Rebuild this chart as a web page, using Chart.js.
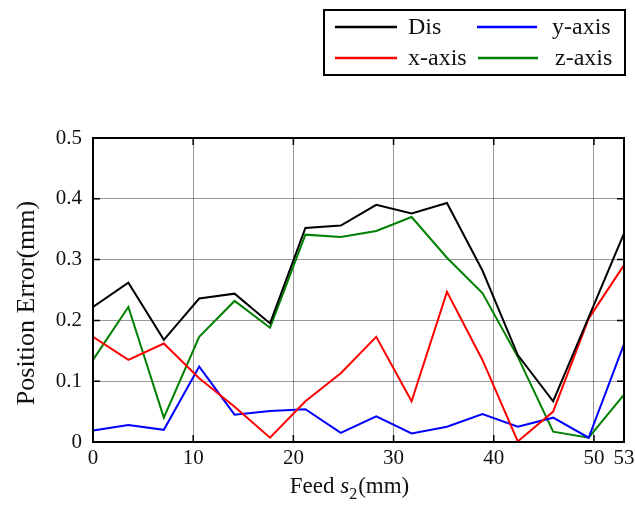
<!DOCTYPE html>
<html><head><meta charset="utf-8">
<style>html,body{margin:0;padding:0;background:#fff}#wrap{width:635px;height:508px}</style>
<script src="https://cdn.jsdelivr.net/npm/chart.js@4.4.0/dist/chart.umd.min.js"></script>
</head><body><div id="wrap"><canvas id="c" width="635" height="508"></canvas></div>
<script>
const feed = [0, 3.53, 7.07, 10.6, 14.13, 17.67, 21.2, 24.73, 28.27, 31.8, 35.33, 38.87, 42.4, 45.93, 49.47, 53];
const disErr = [0.222,0.262,0.168,0.236,0.244,0.195,0.352,0.356,0.390,0.376,0.393,0.282,0.143,0.067,0.205,0.343];
const xErr = [0.173,0.135,0.162,0.105,0.058,0.007,0.067,0.113,0.173,0.067,0.247,0.135,0.001,0.050,0.203,0.291];
const yErr = [0.019,0.028,0.020,0.124,0.045,0.051,0.054,0.015,0.042,0.014,0.025,0.046,0.025,0.040,0.007,0.161];
const zErr = [0.135,0.222,0.040,0.173,0.232,0.188,0.341,0.337,0.347,0.370,0.303,0.245,0.140,0.017,0.007,0.078];
const xTicks = [0,10,20,30,40,50,53];
const yTicks = [0,0.1,0.2,0.3,0.4,0.5];
const yTickLabels = ['0','0.1','0.2','0.3','0.4','0.5'];
const seriesNames = ['Dis','x-axis','y-axis','z-axis'];
const seriesColors = ['#000000','#ff0000','#0000ff','#008000'];
const xTitleParts = ['Feed ','s','2','(mm)'];
const yTitle = 'Position Error(mm)';

const SERIF = '"Liberation Serif", "Times New Roman", serif';
const toPts = arr => arr.map((v,i)=>({x:feed[i], y:v}));
const seriesData = [disErr, xErr, yErr, zErr];

const framePlugin = {
  id:'frame',
  afterDraw(chart){
    const {ctx, chartArea:a, scales} = chart;
    ctx.save();
    ctx.strokeStyle='#000'; ctx.lineWidth=1.5;
    ctx.beginPath();
    scales.x.ticks.forEach(t=>{const px=scales.x.getPixelForValue(t.value);
      ctx.moveTo(px,a.top); ctx.lineTo(px,a.top+7); ctx.moveTo(px,a.bottom); ctx.lineTo(px,a.bottom-7);});
    scales.y.ticks.forEach(t=>{const py=scales.y.getPixelForValue(t.value);
      ctx.moveTo(a.left,py); ctx.lineTo(a.left+7,py); ctx.moveTo(a.right,py); ctx.lineTo(a.right-7,py);});
    ctx.stroke();
    ctx.lineWidth=2;
    ctx.strokeRect(a.left,a.top,a.right-a.left,a.bottom-a.top);

    // legend
    ctx.strokeRect(324,10,301,65);
    const slots = [[0,335,397,408,27],[2,477,537,552,27],[1,335,397,408,58],[3,478,538,555,58]];
    ctx.font = '24px '+SERIF; ctx.textBaseline='middle'; ctx.textAlign='left';
    slots.forEach(([i,x1,x2,tx,y])=>{
      const ds = chart.data.datasets[i];
      ctx.strokeStyle=ds.borderColor; ctx.lineWidth=2.5;
      ctx.beginPath(); ctx.moveTo(x1,y); ctx.lineTo(x2,y); ctx.stroke();
      ctx.fillStyle='#111'; ctx.fillText(ds.label, tx, y+1);
    });

    // x title
    ctx.fillStyle='#111'; ctx.textBaseline='alphabetic';
    const fN='23px '+SERIF, fI='italic 23px '+SERIF, fS='16px '+SERIF;
    ctx.font=fN; const w0=ctx.measureText(xTitleParts[0]).width, w3=ctx.measureText(xTitleParts[3]).width;
    ctx.font=fI; const w1=ctx.measureText(xTitleParts[1]).width;
    ctx.font=fS; const w2=ctx.measureText(xTitleParts[2]).width;
    let x = 349.5 - (w0+w1+w2+w3+1)/2; const base=493;
    ctx.font=fN; ctx.fillText(xTitleParts[0],x,base); x+=w0;
    ctx.font=fI; ctx.fillText(xTitleParts[1],x,base); x+=w1;
    ctx.font=fS; ctx.fillText(xTitleParts[2],x,base+6); x+=w2+1;
    ctx.font=fN; ctx.fillText(xTitleParts[3],x,base);

    // y title
    ctx.save();
    ctx.translate(27,303); ctx.rotate(-Math.PI/2);
    ctx.font='26px '+SERIF; ctx.textAlign='center'; ctx.textBaseline='middle';
    ctx.fillText(yTitle,0,0);
    ctx.restore();
    ctx.restore();
  }
};

new Chart(document.getElementById('c'), {
  type:'line',
  data:{ datasets: seriesNames.map((n,i)=>({
    label:n, data:toPts(seriesData[i]), borderColor:seriesColors[i], backgroundColor:seriesColors[i],
    borderWidth:2, pointRadius:0, tension:0, fill:false
  }))},
  options:{
    responsive:false, animation:false, devicePixelRatio:1,
    layout:{padding:{top:138,right:11,left:0,bottom:0}},
    plugins:{legend:{display:false}, tooltip:{enabled:false}},
    scales:{
      x:{type:'linear', min:0, max:53,
        afterBuildTicks:s=>{s.ticks = xTicks.map(v=>({value:v}));},
        afterFit:s=>{s.height=66; s.paddingLeft=0; s.paddingRight=0;},
        grid:{color:'rgba(0,0,0,0.4)', lineWidth:1, drawTicks:false},
        border:{display:false},
        ticks:{autoSkip:false, maxRotation:0, padding:4, color:'#111', font:{family:SERIF, size:21},
          callback:v=>String(v)}
      },
      y:{type:'linear', min:0, max:0.5,
        afterBuildTicks:s=>{s.ticks = yTicks.map(v=>({value:v}));},
        afterFit:s=>{s.width=93; s.paddingTop=0; s.paddingBottom=0;},
        grid:{color:'rgba(0,0,0,0.4)', lineWidth:1, drawTicks:false},
        border:{display:false},
        ticks:{padding:11, color:'#111', font:{family:SERIF, size:21},
          callback:(v)=>{const i=yTicks.findIndex(t=>Math.abs(t-v)<1e-9); return i>=0?yTickLabels[i]:'';}}
      }
    }
  },
  plugins:[framePlugin]
});
</script></body></html>
